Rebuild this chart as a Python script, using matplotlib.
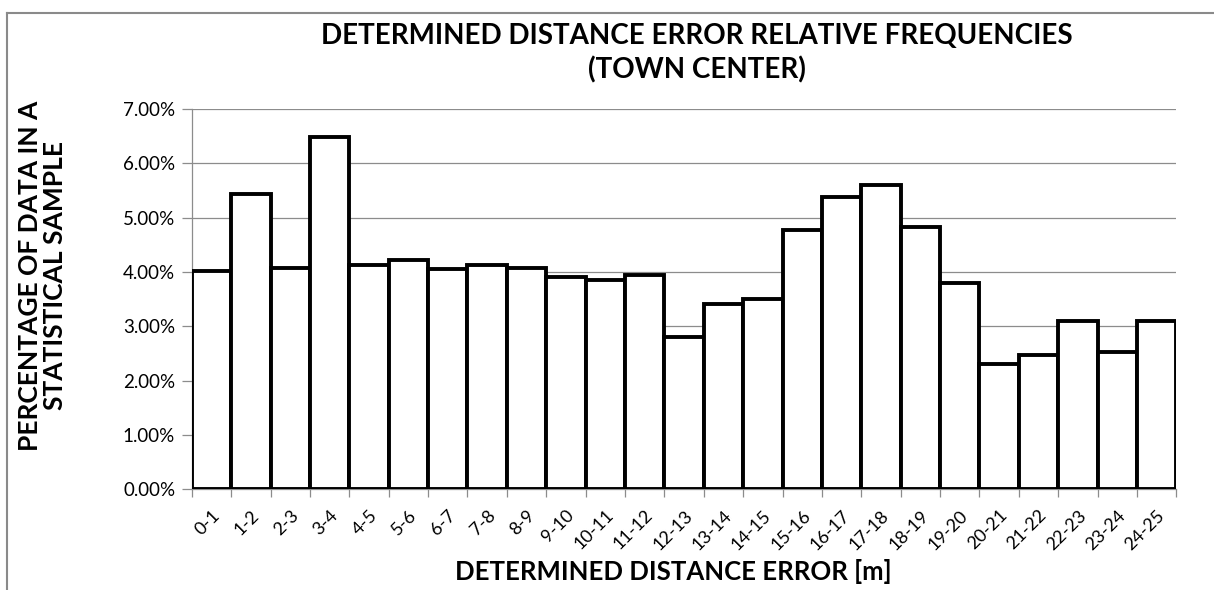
import numpy as np
import matplotlib
matplotlib.use('Agg')
import matplotlib.pyplot as plt
from matplotlib.ticker import FuncFormatter, MultipleLocator, FixedLocator
from matplotlib.lines import Line2D

# ── Data: relative frequency (%) of distance error per 1 m bin ────────────────
bins = ['0-1', '1-2', '2-3', '3-4', '4-5', '5-6', '6-7', '7-8', '8-9', '9-10',
        '10-11', '11-12', '12-13', '13-14', '14-15', '15-16', '16-17', '17-18',
        '18-19', '19-20', '20-21', '21-22', '22-23', '23-24', '24-25']
freq_pct = [4.01, 5.44, 4.07, 6.49, 4.13, 4.23, 4.06, 4.13, 4.07, 3.90,
            3.85, 3.95, 2.80, 3.41, 3.51, 4.78, 5.39, 5.60,
            4.83, 3.79, 2.31, 2.47, 3.09, 2.53, 3.09]

title = "DETERMINED DISTANCE ERROR RELATIVE FREQUENCIES\n(TOWN CENTER)"
x_title = "DETERMINED DISTANCE ERROR [m]"
y_title = "PERCENTAGE OF DATA IN A\nSTATISTICAL SAMPLE"

GRID = '#8c8c8c'
FONT = 'Lato'

fig = plt.figure(figsize=(12.14, 5.90), dpi=100, facecolor='white')
ax = fig.add_axes([0.158, 0.171, 0.811, 0.644])

x = np.arange(len(bins))
ax.bar(x, freq_pct, width=1.0, color='white', edgecolor='black',
       linewidth=2.8, zorder=3)

ax.set_xlim(-0.5, len(bins) - 0.5)
ax.set_ylim(0, 7)
ax.yaxis.set_major_locator(MultipleLocator(1))
ax.yaxis.set_major_formatter(FuncFormatter(lambda v, _: f"{v:.2f}%"))
ax.grid(axis='y', color=GRID, linewidth=0.9, zorder=0)

# category labels centred on bars, tick marks between categories
ax.set_xticks(x)
ax.set_xticklabels(bins, rotation=45, ha='right', rotation_mode='anchor',
                   fontsize=13, family=FONT)
ax.xaxis.set_minor_locator(FixedLocator(np.arange(-0.5, len(bins), 1.0)))
ax.tick_params(axis='x', which='major', length=0, pad=13)
ax.tick_params(axis='x', which='minor', length=6, color=GRID, width=0.9)
ax.tick_params(axis='y', length=7, color=GRID, width=0.9, pad=5)
for lab in ax.get_yticklabels():
    lab.set_family(FONT)
    lab.set_fontsize(13.5)

for side in ('top', 'right'):
    ax.spines[side].set_visible(False)
for side in ('left', 'bottom'):
    ax.spines[side].set_color(GRID)
    ax.spines[side].set_linewidth(0.9)

# titles
fig.text(0.574, 0.910, title, ha='center', va='center', fontsize=20,
         fontweight='bold', family=FONT, linespacing=1.32)
fig.text(0.555, 0.031, x_title, ha='center', va='center', fontsize=18.5,
         fontweight='bold', family=FONT)
fig.text(0.0346, 0.533, y_title, ha='center', va='center', rotation=90,
         fontsize=19, fontweight='bold', family=FONT, linespacing=1.05)

# chart area frame (top and left edges only visible)
top_y = 1 - 13 / 590
left_x = 7 / 1214
fig.add_artist(Line2D([left_x, 1.0], [top_y, top_y], color='#8a8a8a',
                      linewidth=1.5, transform=fig.transFigure))
fig.add_artist(Line2D([left_x, left_x], [0.0, top_y], color='#8a8a8a',
                      linewidth=1.5, transform=fig.transFigure))

fig.savefig('out.png', dpi=100, facecolor='white')
